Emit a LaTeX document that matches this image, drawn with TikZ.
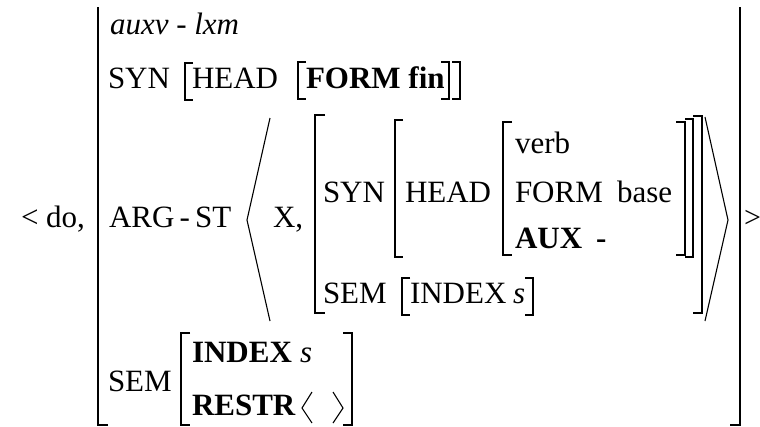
\documentclass[tikz,border=0pt]{standalone}
\usepackage{fontspec}
\setmainfont{Liberation Serif}
\begin{document}
\begin{tikzpicture}[x=1pt,y=-1pt,
  txt/.style={anchor=base west,inner sep=0pt,outer sep=0pt,font=\fontsize{31}{37}\selectfont},
  bfx/.style={txt,font=\fontsize{31}{37}\selectfont\bfseries},
  itx/.style={txt,font=\fontsize{31}{37}\selectfont\itshape},
  brk/.style={line width=1.3pt,line join=miter},
  thickbrk/.style={line width=2.3pt,line join=miter},
  ang/.style={line width=1.1pt}]
\useasboundingbox (0,0) rectangle (760,426);
% outer bars
\draw[brk] (108,425) -- (98,425) -- (98,7);
\draw[brk] (730,425) -- (740,425) -- (740,7);
% texts
\node[txt] (do) at (21,227) {< do,};
\node[itx] (type) at (110,34) {auxv - lxm};
\node[txt] (syn1) at (108,88) {SYN};
\node[txt] (head1) at (192,88) {HEAD};
\node[bfx] (form1) at (306,88) {FORM fin};
\node[txt] (argst) at (109,227) {ARG\,-\,ST};
\node[txt] (x) at (273,227) {X,};
\node[txt] (syn2) at (323,202) {SYN};
\node[txt] (head2) at (405,202) {HEAD};
\node[txt] (verb) at (515,153) {verb};
\node[txt] (form2) at (515,202) {FORM};
\node[txt] (base) at (617,202) {base};
\node[bfx] (aux) at (515,248) {AUX};
\node[bfx] (minus) at (596,248) {-};
\node[txt] (sem2) at (323,303) {SEM};
\node[txt] (index2) at (410,303) {INDEX};
\node[itx] (s2) at (513,303) {s};
\node[txt, font=\fontsize{30}{36}\selectfont] (gt) at (744,227) {>};
\node[txt] (sem1) at (108,391) {SEM};
\node[bfx] (index1) at (192,362) {INDEX};
\node[itx] (s1) at (300,362) {s};
\node[bfx] (restr) at (192,415) {RESTR};
% row 2 brackets
\draw[thickbrk] (193,63) -- (185,63) -- (185,100) -- (193,100);
\draw[thickbrk] (306,62) -- (298,62) -- (298,99) -- (306,99);
\draw[thickbrk] (441,62) -- (449,62) -- (449,99) -- (441,99);
\draw[thickbrk] (452,62) -- (460,62) -- (460,99) -- (452,99);
% ARG-ST angles
\draw[ang] (270,118) -- (247,220) -- (270,321);
\draw[ang] (705,117) -- (728,220) -- (705,321);
% second argument brackets
\draw[brk] (325,115) -- (315,115) -- (315,313) -- (325,313);
\draw[brk] (403,120) -- (395,120) -- (395,257) -- (403,257);
\draw[brk] (512,122) -- (503,122) -- (503,255) -- (512,255);
\draw[brk] (676,122) -- (685,122) -- (685,255) -- (676,255);
\draw[brk] (685,119) -- (693,119) -- (693,257) -- (685,257);
\draw[brk] (693,116) -- (702,116) -- (702,313) -- (693,313);
\draw[brk] (410,278) -- (402,278) -- (402,315) -- (410,315);
\draw[brk] (525,278) -- (533,278) -- (533,315) -- (525,315);
% final SEM brackets
\draw[brk] (190,333) -- (181,333) -- (181,425) -- (190,425);
\draw[brk] (343,333) -- (352,333) -- (352,425) -- (343,425);
% RESTR empty list
\draw[ang] (312,392) -- (302,408) -- (312,423);
\draw[ang] (333,392) -- (343,408) -- (333,423);
\end{tikzpicture}
\end{document}
